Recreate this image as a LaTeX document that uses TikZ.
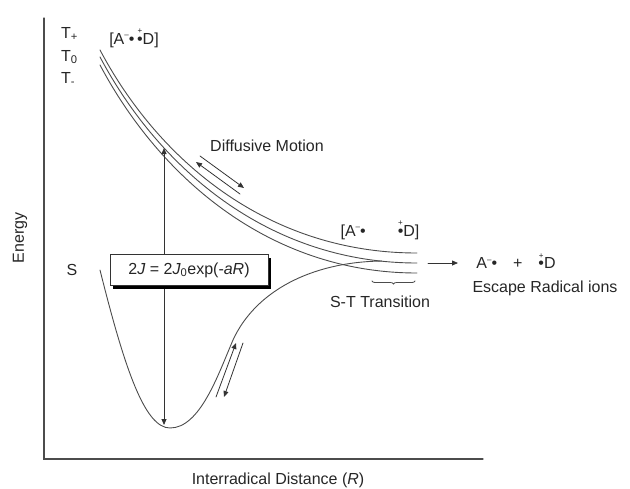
\documentclass[tikz,border=0pt]{standalone}
\usepackage{fontspec}
\setmainfont{Liberation Sans}
\usetikzlibrary{arrows.meta,decorations.pathreplacing,shadows}
\newcommand{\rad}[1]{\ooalign{•\cr\hidewidth\raisebox{1.2ex}{\fontsize{8}{8}\selectfont #1}\hidewidth\cr}}
\newcommand{\anrad}{A\textsuperscript{\fontsize{8}{8}\selectfont –}\kern-0.5pt•}
\begin{document}
\begin{tikzpicture}[x=1pt,y=-1pt,line cap=round,
  axis/.style={draw=black!70,line width=1.2pt},
  curve/.style={draw=black!70,line width=0.9pt},
  lbl/.style={font=\fontsize{16}{19}\selectfont,inner sep=0pt,text=black!85},
  tri/.style={-{Triangle[length=6pt,width=5pt]},draw=black!80,line width=0.8pt},
  dbl/.style={{Triangle[length=6pt,width=5pt]}-{Triangle[length=6pt,width=5pt]},draw=black!80,line width=0.8pt},
  eqbox/.style={draw=black!80,fill=white,line width=0.9pt,minimum width=158pt,minimum height=31pt,
    font=\fontsize{16}{19}\selectfont,text=black!85,
    drop shadow={shadow xshift=3pt,shadow yshift=-3pt,fill=black,opacity=1}},
  brc/.style={draw=black!70,line width=0.8pt,decorate,decoration={brace,amplitude=3pt,mirror}}
]
\useasboundingbox (0,0) rectangle (630,488);
% axes
\coordinate (ytop) at (44,18);
\coordinate (orig) at (44,459);
\coordinate (xend) at (483,459);
\draw[axis] (ytop) -- (orig) -- (xend);
% triplet curves
\draw[curve] (100,50) .. controls (160,163) and (270,253) .. (417,253);
\draw[curve] (100,57) .. controls (160,170) and (270,263) .. (417,263);
\draw[curve] (100,65) .. controls (160,178) and (270,273) .. (417,273);
% singlet curve
\draw[curve] (100,270) .. controls (125,370) and (145,428) .. (170,428)
  .. controls (200,428) and (218,375) .. (233,340)
  .. controls (255,292) and (310,262) .. (382,261);
% vertical double arrow
\coordinate (vtop) at (164,148);
\coordinate (vbot) at (164,425);
\draw[dbl] (vtop) -- (vbot);
% equation box
\node[eqbox] (eq) at (189,270) {2\textit{J} = 2\textit{J}\textsubscript{0}exp(-\textit{aR})};
% diffusive motion arrows
\coordinate (da1) at (240,194); \coordinate (da2) at (196,162);
\coordinate (db1) at (200,156); \coordinate (db2) at (244,188);
\draw[tri] (da1) -- (da2);
\draw[tri] (db1) -- (db2);
% arrows near minimum
\coordinate (ma1) at (216,397); \coordinate (ma2) at (236,343);
\coordinate (mb1) at (243,343); \coordinate (mb2) at (224,397);
\draw[tri] (ma1) -- (ma2);
\draw[tri] (mb1) -- (mb2);
% escape arrow
\coordinate (e1) at (428,263); \coordinate (e2) at (458,263);
\draw[tri] (e1) -- (e2);
% brace
\coordinate (b1) at (372,281); \coordinate (b2) at (415,281);
\draw[brc] (b1) -- (b2);
% labels
\node[lbl,anchor=base west] (tp) at (61,38) {T\textsubscript{+}};
\node[lbl,anchor=base west] (t0) at (61,61) {T\textsubscript{0}};
\node[lbl,anchor=base west] (tm) at (61,83) {T\textsubscript{-}};
\node[lbl] (pair1) at (134,40) {[\anrad\,\rad{+}D]};
\node[lbl] (diff) at (267,146) {Diffusive Motion};
\node[lbl] (pair2) at (380,232) {[\anrad\hspace{32pt}\rad{+}D]};
\node[lbl] (prod) at (516,263) {\anrad\hspace{16pt}+\hspace{16pt}\rad{+}D};
\node[lbl] (esc) at (545,288) {Escape Radical ions};
\node[lbl] (st) at (380,302) {S-T Transition};
\node[lbl] (s) at (72,270) {S};
\node[lbl,rotate=90] (en) at (20,238) {Energy};
\node[lbl] (xl) at (278,480) {Interradical Distance (\textit{R})};
\end{tikzpicture}
\end{document}
